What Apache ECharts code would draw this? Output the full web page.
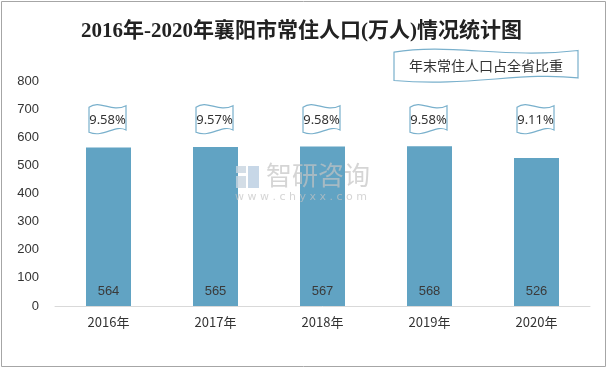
<!DOCTYPE html>
<html><head><meta charset="utf-8">
<script src="https://cdn.jsdelivr.net/npm/echarts@6/dist/echarts.min.js"></script>
<style>html,body{margin:0;padding:0;background:#fff}#c{width:611px;height:369px}</style>
</head><body><div id="c"></div>
<script>
const categories = ['2016年','2017年','2018年','2019年','2020年'];
const population = [564, 565, 567, 568, 526];
const shareLabels = ['9.58%','9.57%','9.58%','9.58%','9.11%'];
const yTicks = [0,100,200,300,400,500,600,700,800];
const legendText = '年末常住人口占全省比重';
const flagLevel = 665;

function wavePath(x, y, w, h) {
  const a = h * 0.12;
  return 'M' + x + ',' + (y + a) +
    ' C' + (x + w*0.3) + ',' + (y - a*1.2) + ' ' + (x + w*0.6) + ',' + (y + a*2.6) + ' ' + (x + w) + ',' + (y + a*0.6) +
    ' L' + (x + w) + ',' + (y + h - a*1.2) +
    ' C' + (x + w*0.7) + ',' + (y + h - a*2.8) + ' ' + (x + w*0.4) + ',' + (y + h + a*1.0) + ' ' + x + ',' + (y + h - a*0.6) +
    ' Z';
}

const chart = echarts.init(document.getElementById('c'));
chart.setOption({
  animation: false,
  backgroundColor: '#fff',
  title: {
    text: '2016年-2020年襄阳市常住人口(万人)情况统计图',
    left: 76, top: 16,
    textStyle: {fontFamily: '"Liberation Serif","Noto Sans CJK SC",serif', fontSize: 21, fontWeight: 'bold', color: '#222'}
  },
  grid: {left: 55, right: 21, top: 81, bottom: 63},
  xAxis: {
    type: 'category', data: categories,
    axisLine: {lineStyle: {color: '#d9d9d9'}},
    axisTick: {show: false},
    axisLabel: {color: '#333', fontSize: 13, margin: 10, fontFamily: '"Noto Sans CJK SC",sans-serif'}
  },
  yAxis: {
    type: 'value', min: 0, max: 800, interval: 100,
    axisLine: {show: false}, axisTick: {show: false}, splitLine: {show: false},
    axisLabel: {color: '#333', fontSize: 13, margin: 16, fontFamily: '"Liberation Sans",sans-serif',
      formatter: v => yTicks.includes(v) ? String(v) : ''}
  },
  series: [
    {
      type: 'bar', data: population, barWidth: 45,
      itemStyle: {color: '#61a3c3'},
      label: {show: true, position: 'insideBottom', distance: 8, color: '#3a3a3a', fontSize: 13, fontFamily: '"Liberation Sans",sans-serif'}
    },
    {
      type: 'custom',
      data: shareLabels.map((s, i) => [i, flagLevel]),
      renderItem: function (params, api) {
        const p = api.coord([api.value(0), api.value(1)]);
        const w = 37, h = 31;
        const x = p[0] - w/2 - 1, y = p[1] - h/2;
        return {
          type: 'group',
          children: [
            {type: 'path', shape: {pathData: wavePath(x, y, w, h)},
              style: {fill: '#fff', stroke: '#79b0cc', lineWidth: 1.2}},
            {type: 'text', style: {text: shareLabels[params.dataIndex], x: p[0] - 1, y: p[1] + 1,
              align: 'center', verticalAlign: 'middle', fontSize: 13, fill: '#333',
              fontFamily: '"Noto Sans","DejaVu Sans",sans-serif'}}
          ]
        };
      },
      z: 5
    },
    {
      type: 'custom',
      coordinateSystem: 'none',
      data: [[0]],
      silent: true,
      renderItem: function () {
        return {
          type: 'group',
          children: [
            {type: 'path', shape: {pathData: wavePath(394, 48, 184, 35)},
              style: {fill: '#fff', stroke: '#79b0cc', lineWidth: 1.2}},
            {type: 'text', style: {text: legendText, x: 486, y: 66, align: 'center', verticalAlign: 'middle',
              fontSize: 14, fill: '#333', fontFamily: '"Noto Sans CJK SC",sans-serif'}}
          ]
        };
      },
      z: 5
    }
  ],
  graphic: [
    {type: 'rect', shape: {x: 1.5, y: 1.5, width: 604, height: 365}, style: {fill: 'none', stroke: '#a6a6a6', lineWidth: 1}, silent: true},
    {type: 'rect', shape: {x: 236, y: 166, width: 10, height: 7}, style: {fill: 'rgba(200,212,224,0.8)'}, z: 10},
    {type: 'rect', shape: {x: 236, y: 176, width: 10, height: 12}, style: {fill: 'rgba(200,212,224,0.8)'}, z: 10},
    {type: 'rect', shape: {x: 248, y: 166, width: 11, height: 22}, style: {fill: 'rgba(185,205,225,0.8)'}, z: 10},
    {type: 'text', left: 266, top: 162, style: {text: '智研咨询', fontSize: 26, fill: 'rgba(195,195,195,0.7)', fontFamily: '"Noto Sans CJK SC",sans-serif'}, z: 10},
    {type: 'text', left: 235, top: 192, style: {text: 'w w w . c h y x x . c o m', fontSize: 11, fill: 'rgba(195,195,195,0.7)', fontFamily: '"DejaVu Sans",sans-serif'}, z: 10}
  ]
});
</script></body></html>
